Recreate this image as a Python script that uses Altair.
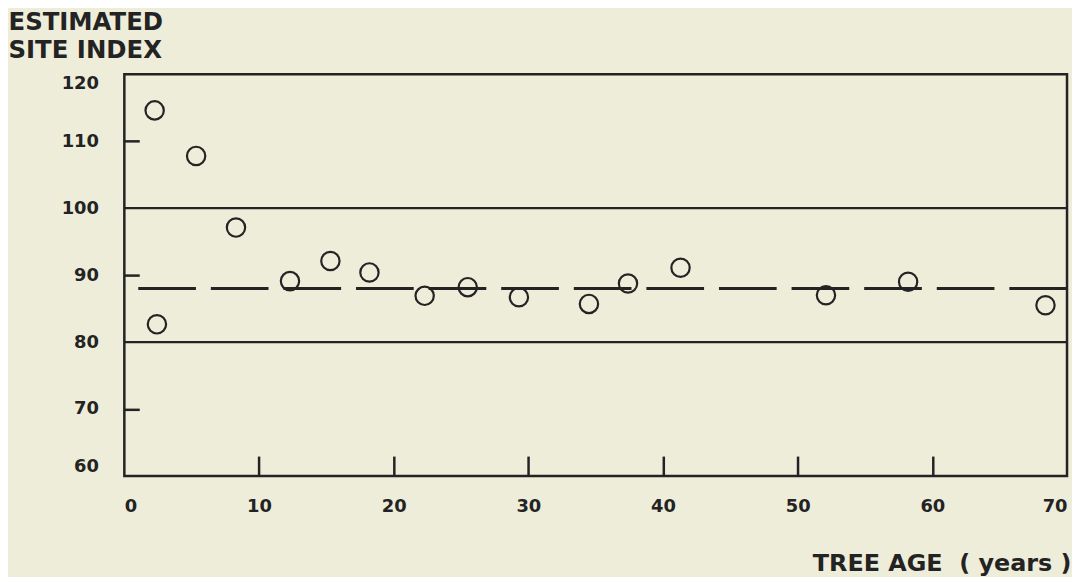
import altair as alt
import pandas as pd

# ---- data ----
age = [2.25, 2.42, 5.33, 8.29, 12.3, 15.3, 18.2, 22.3, 25.5, 29.3, 34.5, 37.4, 41.3, 52.1, 58.2, 68.4]
site_index = [114.6, 82.65, 107.8, 97.1, 89.1, 92.1, 90.4, 86.9, 88.2, 86.7, 85.7, 88.75, 91.1, 87.0, 89.0, 85.5]
limit_lines = [80, 100]
mean_line = [88]
x_labels = [0, 10, 20, 30, 40, 50, 60, 70]
y_labels = [60, 70, 80, 90, 100, 110, 120]
x_inner_ticks = [10, 20, 30, 40, 50, 60]
y_inner_ticks = [70, 90, 110]

pts = pd.DataFrame({"age": age, "si": site_index})
lim = pd.DataFrame({"v": limit_lines})
mean = pd.DataFrame({"v": mean_line})

W, H = 948, 404
INK = "#232323"
FONT = "DejaVu Sans"
BG = "#EEEDDA"

xs = alt.Scale(domain=[0, 70], nice=False, zero=False)
ys = alt.Scale(domain=[60, 120], nice=False, zero=False)

x_main = alt.X(
    "age:Q", scale=xs,
    axis=alt.Axis(orient="bottom", values=x_labels, ticks=False, tickSize=0, domain=False,
                  grid=False, labelPadding=22, labelFont=FONT, labelFontSize=18,
                  labelFontWeight="bold", labelColor=INK, labelFlush=True,
                  title="TREE AGE\u00a0\u00a0( years )", titleX=W + 4, titleY=95,
                  titleAlign="right", titleBaseline="alphabetic", titleFont=FONT,
                  titleFontSize=24, titleFontWeight="bold", titleColor=INK),
)
y_main = alt.Y(
    "si:Q", scale=ys,
    axis=alt.Axis(orient="left", values=y_labels, ticks=False, tickSize=0, domain=False,
                  grid=False, labelPadding=26, labelFont=FONT, labelFontSize=18,
                  labelFontWeight="bold", labelColor=INK, labelFlush=True,
                  title=["ESTIMATED", "SITE INDEX"], titleAngle=0, titleAlign="left",
                  titleBaseline="alphabetic", titleX=-117, titleY=-45, titleLineHeight=28,
                  titleFont=FONT, titleFontSize=24.5, titleFontWeight="bold", titleColor=INK),
)

points = alt.Chart(pts).mark_point(
    shape="circle", filled=False, size=340, strokeWidth=2.2, color=INK, opacity=1
).encode(x=x_main, y=y_main)

# invisible layer that carries the inward-pointing tick marks
tick_layer = alt.Chart(pts).mark_point(opacity=0).encode(
    x=alt.X("age:Q", scale=xs,
            axis=alt.Axis(orient="top", offset=-H, values=x_inner_ticks, labels=False,
                          domain=False, grid=False, ticks=True, tickSize=20, tickWidth=2.5,
                          tickColor=INK, title=None)),
    y=alt.Y("si:Q", scale=ys,
            axis=alt.Axis(orient="right", offset=-W, values=y_inner_ticks, labels=False,
                          domain=False, grid=False, ticks=True, tickSize=15, tickWidth=2.5,
                          tickColor=INK, title=None)),
)

limit_rules = alt.Chart(lim).mark_rule(color=INK, strokeWidth=2.2).encode(
    y=alt.Y("v:Q", scale=ys, axis=None)
)
mean_rule = alt.Chart(mean).mark_rule(color=INK, strokeWidth=3, strokeDash=[58, 15]).encode(
    y=alt.Y("v:Q", scale=ys, axis=None)
)

chart = (
    alt.layer(points, tick_layer, limit_rules, mean_rule)
    .resolve_axis(x="independent", y="independent")
    .properties(
        width=W, height=H,
        autosize=alt.AutoSizeParams(type="none"),
        padding={"left": 117, "top": 65, "right": 5, "bottom": 100},
        background=BG,
    )
    .configure_view(stroke=INK, strokeWidth=2.5)
)

chart.save("out.html", embed_options={"renderer": "svg", "actions": False})
